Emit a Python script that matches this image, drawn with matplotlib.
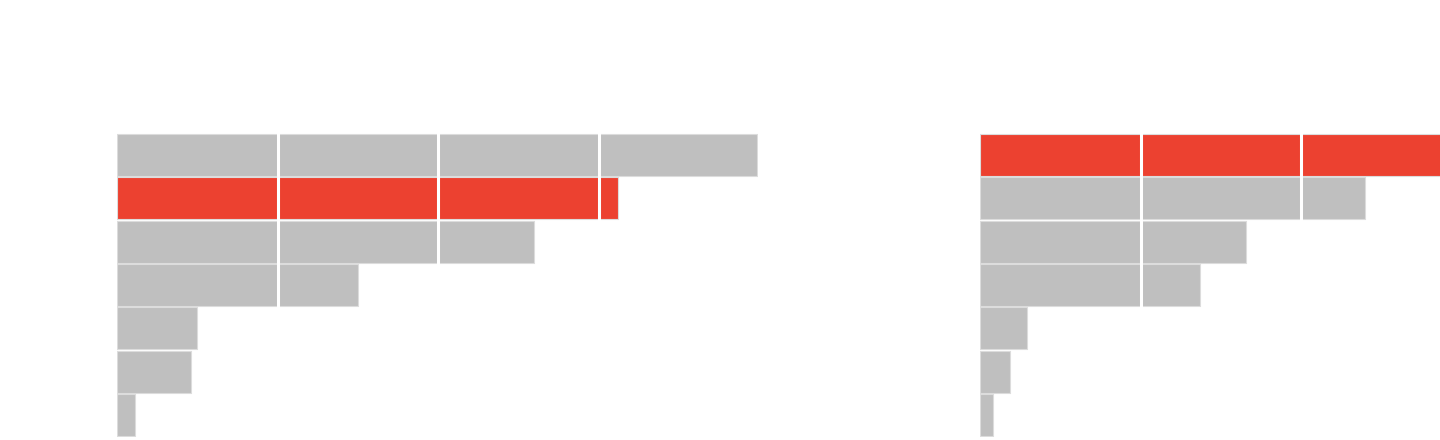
import numpy as np
from matplotlib import pyplot as plt

# ── Data (bar lengths, grid step = 1 unit) ───────────────────────────────────
rows = ["r1", "r2", "r3", "r4", "r5", "r6", "r7"]
left_vals = [3.99, 3.12, 2.60, 1.50, 0.50, 0.46, 0.11]
right_vals = [2.95, 2.40, 1.66, 1.37, 0.29, 0.19, 0.08]
left_highlight = 1
right_highlight = 0
grid_ticks = [1, 2, 3, 4]

GRAY = "#bfbfbf"
RED = "#ec4130"

# ── Figure ────────────────────────────────────────────────────────────────────
fig = plt.figure(figsize=(14.4, 4.4), dpi=100)
fig.patch.set_facecolor("white")

unit_px = 160.5
ax_bottom = 3 / 440
ax_height = (437 - 133) / 440

ax_l = fig.add_axes([117 / 1440, ax_bottom, 5 * unit_px / 1440, ax_height])
ax_r = fig.add_axes([980 / 1440, ax_bottom, 460 / 1440, ax_height])


def draw(ax, vals, hl, xmax):
    y = np.arange(len(vals))
    colors = [RED if i == hl else GRAY for i in range(len(vals))]
    ax.barh(y, vals, height=0.97, color=colors, edgecolor="#dcdcdc",
            linewidth=0.8, zorder=2)
    for t in grid_ticks:
        ax.axvline(t, color="white", linewidth=2.2, zorder=3)
    ax.set_xlim(0, xmax)
    ax.set_ylim(len(vals) - 0.5, -0.5)
    ax.axis("off")


draw(ax_l, left_vals, left_highlight, 5.0)
draw(ax_r, right_vals, right_highlight, 460 / unit_px)

plt.savefig("out.png", dpi=100, facecolor="white")
